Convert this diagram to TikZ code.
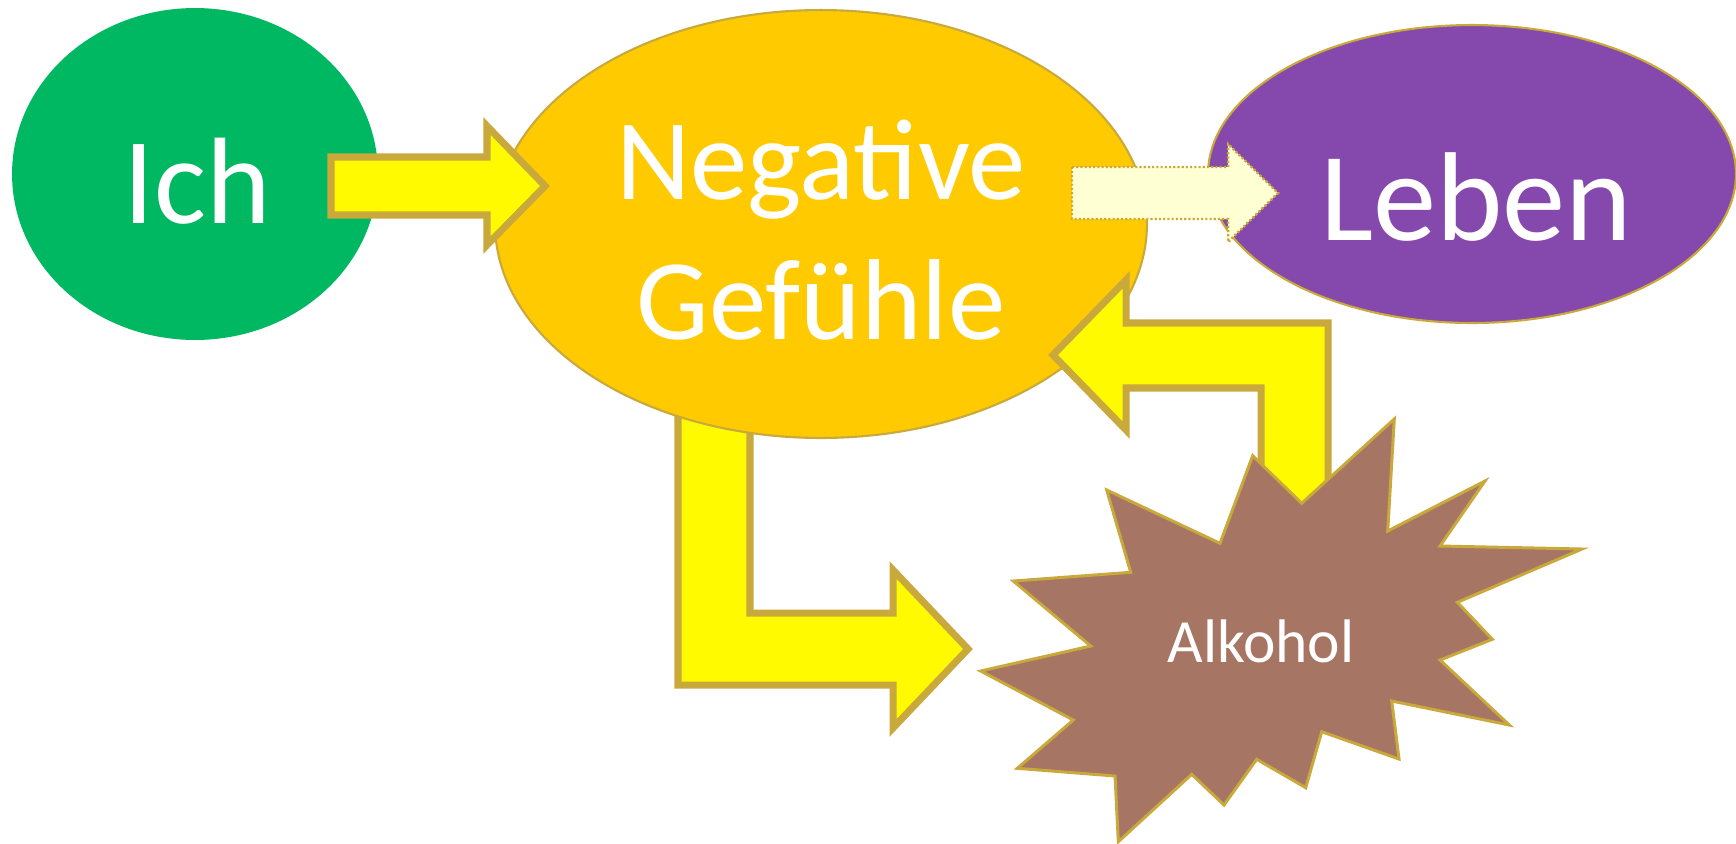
\documentclass[tikz,border=0pt]{standalone}
\usepackage{fontspec}
\setmainfont{Carlito}
\usetikzlibrary{shapes.geometric}

\definecolor{ichgreen}{HTML}{00B861}
\definecolor{negorange}{HTML}{FFCA00}
\definecolor{lebenpurple}{HTML}{8549AD}
\definecolor{alkbrown}{HTML}{A67564}
\definecolor{rim}{HTML}{C9A83C}
\definecolor{shaft}{HTML}{FFFA00}
\definecolor{pale}{HTML}{FFFFD4}

\begin{document}
\begin{tikzpicture}[x = 0.02cm, y = -0.02cm]
\tikzset{
   blob/.style = {ellipse, inner sep = 0pt},
   blob_rim/.style = {blob, draw = rim, line width = 1.2pt},
   word/.style = {text = white, inner sep = 0pt, anchor = base},
   block/.style = {draw = rim, fill = shaft, line width = 4pt, line join = miter},
   hint/.style = {draw = rim, fill = pale, line width = 1.4pt, dash pattern = on 1.2pt off 1.2pt},
   burst/.style = {draw = rim, fill = alkbrown, line width = 1.7pt, line join = miter}
}
\useasboundingbox (0,0) rectangle (1736,843);

  \node[blob, fill = ichgreen, minimum width = 7.32cm, minimum height = 6.64cm] (ich) at (195,174) {};
  \node[blob_rim, fill = lebenpurple, minimum width = 10.56cm, minimum height = 5.96cm] (leben) at (1472,174) {};

  % bent arrow down to the star, its top hidden by the yellow ellipse
  \draw[block] (678,400) -- (678,685) -- (893,685) -- (893,728) -- (968,649) -- (893,570)
        -- (893,613) -- (750,613) -- (750,400) -- cycle;

  \node[blob_rim, fill = negorange, minimum width = 13.04cm, minimum height = 8.56cm] (neg) at (821,224) {};

  \draw[block] (331,157) -- (487,157) -- (487,126) -- (545,186) -- (487,245) -- (487,215)
        -- (331,215) -- cycle;
  \draw[block] (1328,520) -- (1328,323) -- (1126,323) -- (1126,280) -- (1053,355) -- (1126,430)
        -- (1126,388) -- (1261,388) -- (1261,520) -- cycle;
  \draw[hint] (1072,167) -- (1228,167) -- (1228,144) -- (1278,193) -- (1228,242) -- (1228,219)
        -- (1072,219) -- cycle;

  \draw[burst] (1252.7,455.7) -- (1301.7,503.3) -- (1394.3,419) -- (1387.7,531) -- (1485,481)
        -- (1440,546) -- (1582,549) -- (1457.3,602.3) -- (1492.3,639.3) -- (1440,660)
        -- (1509.3,725) -- (1391.7,701) -- (1399,759) -- (1321.7,731.7) -- (1305.7,787.7)
        -- (1256.7,759.3) -- (1224,805) -- (1191.7,774.3) -- (1118.3,841.7) -- (1115,776)
        -- (1017.3,768.3) -- (1073.3,720) -- (980.7,671) -- (1090.7,646) -- (1013.3,581)
        -- (1130.7,572.3) -- (1106.7,490) -- (1220,543.3) -- cycle;

  \node[word, font = \fontsize{70}{84}\selectfont] (ich_text) at (197,223) {Ich};
  \node[word, font = \fontsize{65.5}{79}\selectfont] (neg_text) at (821,199) {Negative};
  \node[word, font = \fontsize{65.5}{79}\selectfont] (gef_text) at (821,339) {Gefühle};
  \node[word, font = \fontsize{72}{86}\selectfont] (leben_text) at (1476,240) {Leben};
  \node[word, font = \fontsize{35}{42}\selectfont] (alk_text) at (1261,662) {Alkohol};

\end{tikzpicture}
\end{document}
